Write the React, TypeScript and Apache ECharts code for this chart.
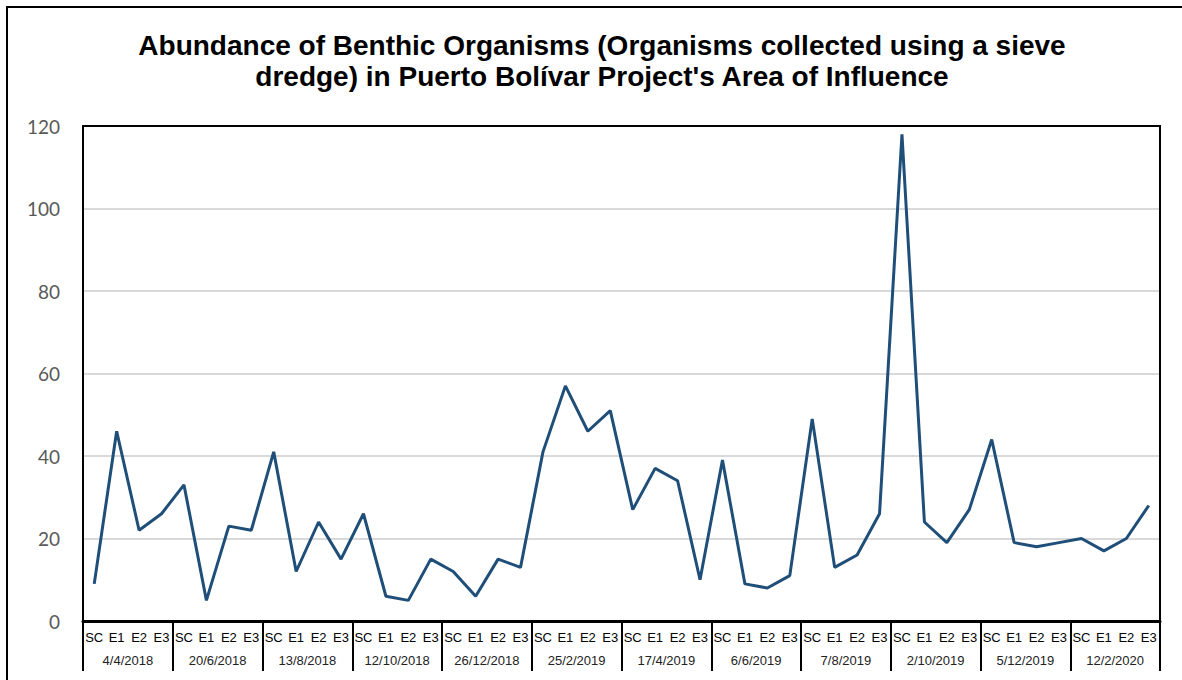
import React, { useEffect, useRef } from "react";
import * as echarts from "echarts";

const stations = ["SC", "E1", "E2", "E3"];
const dates = [
  "4/4/2018", "20/6/2018", "13/8/2018", "12/10/2018", "26/12/2018", "25/2/2019",
  "17/4/2019", "6/6/2019", "7/8/2019", "2/10/2019", "5/12/2019", "12/2/2020",
];
const abundance = [
  9, 46, 22, 26,
  33, 5, 23, 22,
  41, 12, 24, 15,
  26, 6, 5, 15,
  12, 6, 15, 13,
  41, 57, 46, 51,
  27, 37, 34, 10,
  39, 9, 8, 11,
  49, 13, 16, 26,
  118, 24, 19, 27,
  44, 19, 18, 19,
  20, 17, 20, 28,
];
const yTicks = { min: 0, max: 120, interval: 20 };
const titleText =
  "Abundance of Benthic Organisms (Organisms collected using a sieve\ndredge) in Puerto Bolívar Project's Area of Influence";

export default function App() {
  const ref = useRef<HTMLDivElement>(null);
  useEffect(() => {
    if (!ref.current) return;
    const chart = echarts.init(ref.current, null, { renderer: "svg" });
    const stationCats: string[] = [];
    dates.forEach((d) => stations.forEach((s) => stationCats.push(s + "|" + d)));
    const G = { left: 83, top: 126, right: 22, bottom: 59 };
    chart.setOption({
      animation: false,
      backgroundColor: "#fff",
      title: {
        text: titleText,
        left: 597,
        top: 25,
        textAlign: "center",
        textStyle: {
          fontFamily: "Liberation Sans, Arial",
          fontWeight: "bold",
          fontSize: 28,
          lineHeight: 31,
          color: "#000",
        },
      },
      graphic: [
        {
          type: "rect",
          shape: { x: 7, y: 7, width: 1300, height: 800 },
          style: { fill: "none", stroke: "#000", lineWidth: 2 },
          silent: true,
        },
        {
          type: "rect",
          z: 100,
          shape: { x: G.left, y: G.top, width: 1182 - G.left - G.right, height: 680 - G.top - G.bottom },
          style: { fill: "none", stroke: "#000", lineWidth: 2 },
          silent: true,
        },
      ],
      grid: {
        left: G.left,
        right: G.right,
        top: G.top,
        bottom: G.bottom,
        show: false,
        containLabel: false,
      },
      xAxis: [
        {
          type: "category",
          data: stationCats,
          position: "bottom",
          boundaryGap: true,
          z: 10,
          axisLine: { show: true, lineStyle: { color: "#000", width: 3 } },
          axisTick: { show: false },
          axisLabel: {
            interval: 0,
            margin: 10,
            fontSize: 13,
            fontFamily: "Liberation Sans, Arial",
            color: "#000",
            formatter: (v: string) => v.split("|")[0],
          },
          splitLine: { show: false },
        },
        {
          type: "category",
          data: dates,
          position: "bottom",
          offset: 0,
          boundaryGap: true,
          axisLine: { show: false },
          axisTick: {
            show: true,
            interval: 0,
            length: 50,
            lineStyle: { color: "#000", width: 2 },
          },
          axisLabel: {
            interval: 0,
            margin: 33,
            fontSize: 13,
            fontFamily: "Liberation Sans, Arial",
            color: "#222",
          },
          splitLine: { show: false },
        },
      ],
      yAxis: {
        type: "value",
        min: yTicks.min,
        max: yTicks.max,
        interval: yTicks.interval,
        axisLine: { show: false },
        axisTick: { show: false },
        axisLabel: {
          margin: 23,
          fontSize: 19,
          fontFamily: "Lato, Open Sans, sans-serif",
          color: "#595959",
        },
        splitLine: { show: true, lineStyle: { color: "#d9d9d9", width: 2 } },
      },
      series: [
        {
          type: "line",
          xAxisIndex: 0,
          data: abundance,
          symbol: "none",
          lineStyle: { color: "#1f4e79", width: 3 },
          itemStyle: { color: "#1f4e79" },
        },
      ],
    });
    return () => chart.dispose();
  }, []);
  return (
    <div
      ref={ref}
      style={{ position: "fixed", left: 0, top: 0, width: 1182, height: 680 }}
    />
  );
}
